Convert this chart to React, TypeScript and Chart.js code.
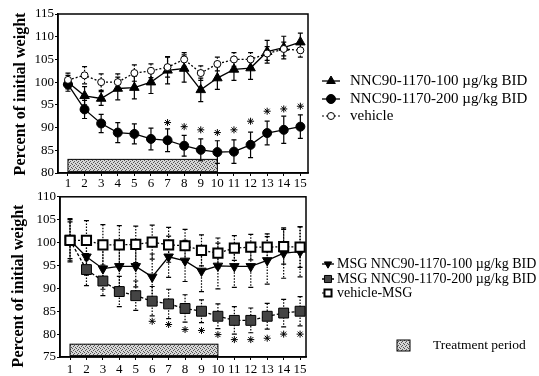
import React, { useEffect, useRef } from "react";
import { Chart, registerables } from "chart.js";
Chart.register(...registerables);

// ---------- data ----------
const DAYS = [1, 2, 3, 4, 5, 6, 7, 8, 9, 10, 11, 12, 13, 14, 15];

// top panel
const TOP_Y_MIN = 80;
const TOP_Y_MAX = 115;
const T100 = [100, 97, 96.4, 98.6, 98.8, 100, 102.6, 103, 98.3, 100.9, 102.8, 103.1, 106.7, 107.6, 108.8];
const T100_ERR = [1.5, 2, 1.5, 2.5, 2.5, 2.5, 3, 3, 2.6, 2.5, 2.4, 2.5, 2.5, 2.5, 2];
const T200 = [99.5, 94, 90.9, 88.9, 88.6, 87.5, 87.2, 86, 85.1, 84.6, 84.7, 86.2, 88.8, 89.5, 90.2];
const T200_ERR = [1.5, 2, 2, 2.2, 2.2, 2.4, 2.5, 2.3, 2.4, 2.5, 2.6, 2.8, 2.6, 3, 2.6];
const VEHICLE = [100.5, 101.5, 100, 100, 102, 102.5, 103.3, 105, 102, 104, 105, 105, 106.3, 107.3, 107];
const VEHICLE_ERR = [1.5, 1.9, 1.8, 1.8, 1.8, 1.5, 2.2, 1.5, 1.6, 1.5, 1.5, 1.5, 1.5, 1.5, 1.5];
const TOP_STAR_DAYS = [7, 8, 9, 10, 11, 12, 13, 14, 15];
const TOP_STAR_VALUES = [91.1, 90.2, 89.5, 88.9, 89.5, 91.4, 93.6, 94.1, 94.7];

// bottom panel
const BOT_Y_MIN = 75;
const BOT_Y_MAX = 110;
const MSG100 = [100.5, 96.9, 94.3, 94.8, 94.8, 92.5, 96.9, 96.0, 93.8, 94.9, 94.8, 94.8, 96.1, 97.7, 98.0];
const MSG100_ERR = [4.5, 4, 4.5, 4.5, 4.5, 5, 4.5, 4.5, 4.5, 5, 4.6, 4.6, 5.2, 5.5, 5.5];
const MSG200 = [100.5, 94.1, 91.6, 89.3, 88.4, 87.2, 86.6, 85.6, 85.0, 83.9, 83.0, 83.0, 83.9, 84.6, 85.0];
const MSG200_ERR = [4, 3.5, 3.2, 3.3, 3.2, 3.2, 3.2, 3, 2.5, 2.7, 3, 2.7, 2.8, 3, 3.2];
const VEH_MSG = [100.5, 100.5, 99.5, 99.5, 99.6, 100.1, 99.5, 99.3, 98.3, 97.7, 98.8, 99.0, 99.0, 99.1, 99.0];
const VEH_MSG_ERR = [4.75, 4.3, 4.4, 4.2, 4, 3.7, 3.8, 3.6, 3.4, 3.3, 2.7, 2.8, 2.9, 3.8, 4.4];
const BOT_STAR_DAYS = [6, 7, 8, 9, 10, 11, 12, 13, 14, 15];
const BOT_STAR_VALUES = [82.8, 82.1, 81.0, 80.8, 79.9, 78.8, 78.8, 79.1, 80.0, 80.0];

// treatment period
const TREAT_START = 1;
const TREAT_END = 10;
const TOP_TREAT_RANGE = [80.3, 83.0];
const BOT_TREAT_RANGE = [75.3, 77.8];

// texts
const Y_TITLE = "Percent of initial weight";
const TOP_LEGEND = ["NNC90-1170-100 \u00b5g/kg BID", "NNC90-1170-200 \u00b5g/kg BID", "vehicle"];
const BOT_LEGEND = ["MSG NNC90-1170-100 \u00b5g/kg BID", "MSG NNC90-1170-200 \u00b5g/kg BID", "vehicle-MSG"];
const TREATMENT_LABEL = "Treatment period";

// ---------- drawing helpers ----------
const SERIF = "'Liberation Serif', 'DejaVu Serif', serif";
const W = 539;
const H = 188;

let patternCanvas: HTMLCanvasElement | null = null;
function getPattern(ctx: CanvasRenderingContext2D) {
  if (!patternCanvas) {
    patternCanvas = document.createElement("canvas");
    patternCanvas.width = 4;
    patternCanvas.height = 4;
    const p = patternCanvas.getContext("2d")!;
    p.fillStyle = "#d6d6d6";
    p.fillRect(0, 0, 4, 4);
    p.fillStyle = "#555";
    p.fillRect(0, 0, 1, 1);
    p.fillRect(2, 1, 1, 1);
    p.fillRect(1, 2, 1, 1);
    p.fillRect(3, 3, 1, 1);
  }
  return ctx.createPattern(patternCanvas, "repeat") as CanvasPattern;
}

function drawMarker(
  ctx: CanvasRenderingContext2D,
  style: string,
  x: number,
  y: number,
  r: number,
  fill: string,
  stroke: string,
  lw: number,
  rotation = 0
) {
  ctx.save();
  ctx.setLineDash([]);
  ctx.beginPath();
  if (style === "circle") {
    ctx.arc(x, y, r, 0, Math.PI * 2);
  } else if (style === "triangle") {
    const s = rotation ? -1 : 1;
    ctx.moveTo(x, y - s * r);
    ctx.lineTo(x + 0.866 * r, y + s * 0.5 * r);
    ctx.lineTo(x - 0.866 * r, y + s * 0.5 * r);
    ctx.closePath();
  } else if (style === "rect") {
    const h = r * Math.SQRT1_2;
    ctx.rect(x - h, y - h, 2 * h, 2 * h);
  }
  ctx.fillStyle = fill;
  ctx.fill();
  ctx.lineWidth = lw;
  ctx.strokeStyle = stroke;
  ctx.stroke();
  ctx.restore();
}

interface LegendItem {
  text: string;
  style: string;
  r: number;
  fill: string;
  dash: number[];
  lw: number;
  rotation?: number;
}

interface DecorCfg {
  treatRange: number[];
  titleX: number;
  titleY: number;
  legend: LegendItem[];
  legendRows: number[];
  lineX0: number;
  lineX1: number;
  markerX: number;
  textX: number;
  fontSize: number;
  treatLegend?: { x: number; y: number; w: number; h: number; textX: number; fontSize: number };
}

function makeDecor(cfg: DecorCfg) {
  return {
    id: "decor",
    beforeDatasetsDraw(chart: any) {
      const { ctx, scales } = chart;
      const xs = scales.x;
      const ys = scales.y;
      ctx.save();
      // treatment bar
      const x0 = xs.getPixelForValue(TREAT_START);
      const x1 = xs.getPixelForValue(TREAT_END);
      const y0 = ys.getPixelForValue(cfg.treatRange[1]);
      const y1 = ys.getPixelForValue(cfg.treatRange[0]);
      ctx.fillStyle = getPattern(ctx);
      ctx.fillRect(x0, y0, x1 - x0, y1 - y0);
      ctx.strokeStyle = "#000";
      ctx.lineWidth = 1;
      ctx.strokeRect(x0, y0, x1 - x0, y1 - y0);
      // error bars
      chart.data.datasets.forEach((ds: any) => {
        if (!ds.errorBars) return;
        ds.data.forEach((pt: any, i: number) => {
          const e = ds.errorBars[i];
          const px = xs.getPixelForValue(pt.x);
          const yt = ys.getPixelForValue(pt.y + e);
          const yb = ys.getPixelForValue(pt.y - e);
          ctx.strokeStyle = "#000";
          ctx.lineWidth = 1.2;
          ctx.setLineDash(ds.errDash || []);
          ctx.beginPath();
          ctx.moveTo(px, yt);
          ctx.lineTo(px, yb);
          ctx.stroke();
          ctx.setLineDash([]);
          ctx.beginPath();
          ctx.moveTo(px - 2.5, yt);
          ctx.lineTo(px + 2.5, yt);
          ctx.moveTo(px - 2.5, yb);
          ctx.lineTo(px + 2.5, yb);
          ctx.stroke();
        });
      });
      ctx.restore();
    },
    afterDraw(chart: any) {
      const { ctx, chartArea } = chart;
      ctx.save();
      // frame
      ctx.strokeStyle = "#000";
      ctx.lineWidth = 1.5;
      ctx.strokeRect(chartArea.left, chartArea.top, chartArea.right - chartArea.left, chartArea.bottom - chartArea.top);
      // y title
      ctx.save();
      ctx.translate(cfg.titleX, cfg.titleY);
      ctx.rotate(-Math.PI / 2);
      ctx.font = `bold 16px ${SERIF}`;
      ctx.fillStyle = "#000";
      ctx.textAlign = "center";
      ctx.textBaseline = "middle";
      ctx.fillText(Y_TITLE, 0, 0);
      ctx.restore();
      // legend
      cfg.legend.forEach((it, i) => {
        const y = cfg.legendRows[i];
        ctx.save();
        ctx.strokeStyle = "#000";
        ctx.lineWidth = it.lw;
        ctx.setLineDash(it.dash);
        ctx.beginPath();
        ctx.moveTo(cfg.lineX0, y);
        ctx.lineTo(cfg.lineX1, y);
        ctx.stroke();
        ctx.restore();
        drawMarker(ctx, it.style, cfg.markerX, y, it.r, it.fill, "#000", it.style === "rect" && it.fill === "#fff" ? 2 : 1, it.rotation || 0);
        ctx.font = `${cfg.fontSize}px ${SERIF}`;
        ctx.fillStyle = "#000";
        ctx.textAlign = "left";
        ctx.textBaseline = "middle";
        ctx.fillText(it.text, cfg.textX, y);
      });
      if (cfg.treatLegend) {
        const t = cfg.treatLegend;
        ctx.fillStyle = getPattern(ctx);
        ctx.fillRect(t.x, t.y, t.w, t.h);
        ctx.strokeStyle = "#000";
        ctx.lineWidth = 1;
        ctx.strokeRect(t.x, t.y, t.w, t.h);
        ctx.font = `${t.fontSize}px ${SERIF}`;
        ctx.fillStyle = "#000";
        ctx.textAlign = "left";
        ctx.textBaseline = "middle";
        ctx.fillText(TREATMENT_LABEL, t.textX, t.y + t.h / 2);
      }
      ctx.restore();
    },
  };
}

function pts(xs: number[], ys: number[]) {
  return xs.map((x, i) => ({ x, y: ys[i] }));
}

function baseOptions(p: {
  xMin: number;
  xMax: number;
  yMin: number;
  yMax: number;
  left: number;
  right: number;
  top: number;
  bottom: number;
  tickPad: number;
}): any {
  const tickFont = { family: SERIF, size: 13 };
  return {
    responsive: false,
    animation: false,
    events: [],
    layout: { padding: { left: 0, right: W - p.right, top: p.top, bottom: 0 } },
    plugins: { legend: { display: false }, tooltip: { enabled: false } },
    scales: {
      x: {
        type: "linear",
        min: p.xMin,
        max: p.xMax,
        afterBuildTicks: (ax: any) => {
          ax.ticks = DAYS.map((v) => ({ value: v }));
        },
        afterFit: (s: any) => {
          s.height = H - p.bottom;
        },
        grid: { drawOnChartArea: false, tickLength: 3, color: "#000" },
        border: { color: "#000", width: 1.5 },
        ticks: {
          font: tickFont,
          color: "#000",
          padding: p.tickPad,
          autoSkip: false,
          maxRotation: 0,
          callback: (v: any) => String(v),
        },
      },
      y: {
        type: "linear",
        min: p.yMin,
        max: p.yMax,
        afterFit: (s: any) => {
          s.width = p.left;
        },
        grid: { drawOnChartArea: false, tickLength: 3, color: "#000" },
        border: { color: "#000", width: 1.5 },
        ticks: { font: tickFont, color: "#000", stepSize: 5, padding: 1 },
      },
    },
  };
}

function lineDs(data: number[], err: number[], extra: any) {
  return {
    data: pts(DAYS, data),
    borderColor: "#000",
    backgroundColor: "#000",
    pointBorderColor: "#000",
    borderWidth: 1.3,
    tension: 0,
    errorBars: err,
    ...extra,
  };
}

function starDs(days: number[], vals: number[]) {
  return {
    data: pts(days, vals),
    showLine: false,
    pointStyle: "star",
    pointRadius: 3.5,
    pointBorderWidth: 1,
    borderColor: "#000",
    backgroundColor: "#000",
  };
}

export default function App() {
  const topRef = useRef<HTMLCanvasElement>(null);
  const botRef = useRef<HTMLCanvasElement>(null);

  useEffect(() => {
    const top = new Chart(topRef.current!, {
      type: "line",
      data: {
        datasets: [
          lineDs(VEHICLE, VEHICLE_ERR, {
            borderDash: [2, 2],
            errDash: [1.5, 1.5],
            pointStyle: "circle",
            pointRadius: 3.5,
            pointBackgroundColor: "#fff",
            pointBorderWidth: 1,
          }),
          lineDs(T100, T100_ERR, {
            pointStyle: "triangle",
            pointRadius: 5.5,
            pointBackgroundColor: "#000",
            pointBorderWidth: 1,
          }),
          lineDs(T200, T200_ERR, {
            pointStyle: "circle",
            pointRadius: 4.5,
            pointBackgroundColor: "#000",
            pointBorderWidth: 1,
          }),
          starDs(TOP_STAR_DAYS, TOP_STAR_VALUES),
        ] as any,
      },
      options: baseOptions({
        xMin: 0.4,
        xMax: 15.46,
        yMin: TOP_Y_MIN,
        yMax: TOP_Y_MAX,
        left: 58,
        right: 308,
        top: 14,
        bottom: 173,
        tickPad: 0,
      }),
      plugins: [
        makeDecor({
          treatRange: TOP_TREAT_RANGE,
          titleX: 21,
          titleY: 94,
          legend: [
            { text: TOP_LEGEND[0], style: "triangle", r: 5, fill: "#000", dash: [], lw: 1.3 },
            { text: TOP_LEGEND[1], style: "circle", r: 4.5, fill: "#000", dash: [], lw: 1.3 },
            { text: TOP_LEGEND[2], style: "circle", r: 3.5, fill: "#fff", dash: [2, 2], lw: 1.2 },
          ],
          legendRows: [81, 99, 116],
          lineX0: 322,
          lineX1: 340,
          markerX: 331,
          textX: 350,
          fontSize: 15,
        }),
      ],
    });

    const bot = new Chart(botRef.current!, {
      type: "line",
      data: {
        datasets: [
          lineDs(VEH_MSG, VEH_MSG_ERR, {
            borderDash: [2, 2],
            errDash: [1.5, 1.5],
            pointStyle: "rect",
            pointRadius: 6.5,
            pointBackgroundColor: "#fff",
            pointBorderWidth: 2,
          }),
          lineDs(MSG100, MSG100_ERR, {
            errDash: [1.5, 1.5],
            pointStyle: "triangle",
            rotation: 180,
            pointRotation: 180,
            pointRadius: 5.5,
            pointBackgroundColor: "#000",
            pointBorderWidth: 1,
          }),
          lineDs(MSG200, MSG200_ERR, {
            borderDash: [3, 2],
            errDash: [1.5, 1.5],
            pointStyle: "rect",
            pointRadius: 7,
            pointBackgroundColor: "#444",
            pointBorderWidth: 1,
          }),
          starDs(BOT_STAR_DAYS, BOT_STAR_VALUES),
        ] as any,
      },
      options: baseOptions({
        xMin: 0.39,
        xMax: 15.36,
        yMin: BOT_Y_MIN,
        yMax: BOT_Y_MAX,
        left: 60,
        right: 306,
        top: 8,
        bottom: 169,
        tickPad: 2,
      }),
      plugins: [
        makeDecor({
          treatRange: BOT_TREAT_RANGE,
          titleX: 19,
          titleY: 98,
          legend: [
            { text: BOT_LEGEND[0], style: "triangle", r: 4.2, fill: "#000", dash: [], lw: 1.3, rotation: 180 },
            { text: BOT_LEGEND[1], style: "rect", r: 5, fill: "#444", dash: [3, 2], lw: 1.3 },
            { text: BOT_LEGEND[2], style: "rect", r: 5, fill: "#fff", dash: [2, 2], lw: 1.2 },
          ],
          legendRows: [76, 91, 105],
          lineX0: 322,
          lineX1: 334,
          markerX: 328,
          textX: 337,
          fontSize: 14,
          treatLegend: { x: 397, y: 152, w: 13, h: 11, textX: 433, fontSize: 13.5 },
        }),
      ],
    });

    return () => {
      top.destroy();
      bot.destroy();
    };
  }, []);

  return (
    <div style={{ position: "absolute", left: 0, top: 0, width: W, height: 376, background: "#fff" }}>
      <canvas ref={topRef} width={W} height={H} style={{ position: "absolute", left: 0, top: 0 }} />
      <canvas ref={botRef} width={W} height={H} style={{ position: "absolute", left: 0, top: 188 }} />
    </div>
  );
}
